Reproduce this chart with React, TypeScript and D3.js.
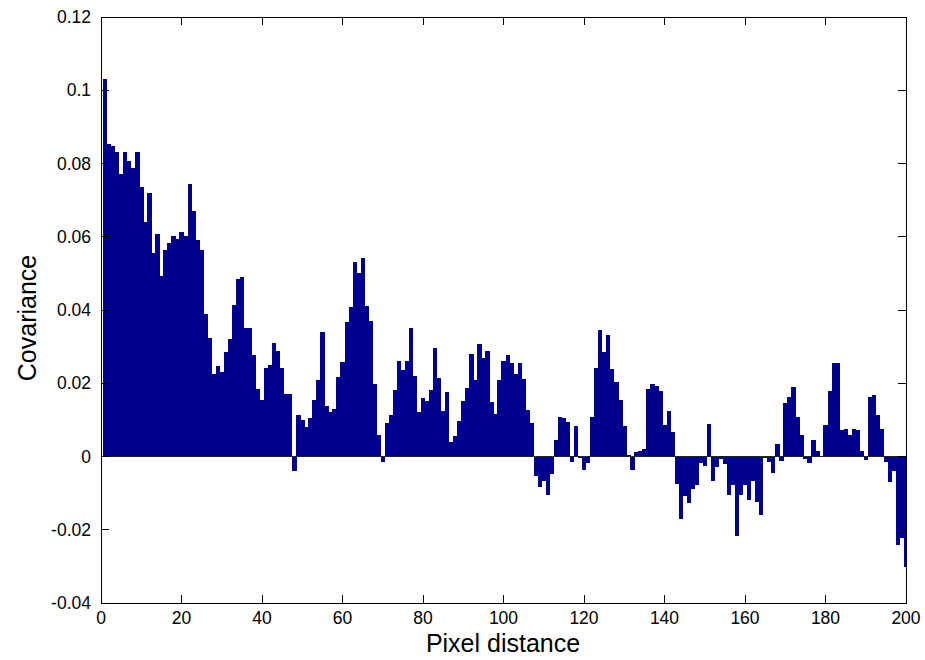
import React from "react";
import * as d3 from "d3";

// Pixel distance 1..200 and covariance values
const distances: number[] = d3.range(1, 201);
const covariance: number[] = [
  0.1030, 0.0854, 0.0847, 0.0831, 0.0772, 0.0831, 0.0806, 0.0787, 0.0831, 0.0735,
  0.0640, 0.0719, 0.0555, 0.0608, 0.0494, 0.0563, 0.0583, 0.0603, 0.0593, 0.0613,
  0.0601, 0.0743, 0.0670, 0.0590, 0.0563, 0.0389, 0.0324, 0.0226, 0.0248, 0.0231,
  0.0284, 0.0320, 0.0415, 0.0485, 0.0490, 0.0351, 0.0350, 0.0276, 0.0185, 0.0153,
  0.0242, 0.0250, 0.0310, 0.0289, 0.0242, 0.0171, 0.0172, -0.0040, 0.0112, 0.0100,
  0.0080, 0.0106, 0.0155, 0.0210, 0.0339, 0.0137, 0.0121, 0.0131, 0.0218, 0.0257,
  0.0367, 0.0408, 0.0530, 0.0502, 0.0543, 0.0412, 0.0371, 0.0197, 0.0059, -0.0014,
  0.0092, 0.0114, 0.0182, 0.0262, 0.0235, 0.0262, 0.0352, 0.0221, 0.0121, 0.0160,
  0.0151, 0.0182, 0.0296, 0.0214, 0.0124, 0.0176, 0.0039, 0.0055, 0.0098, 0.0151,
  0.0187, 0.0280, 0.0208, 0.0308, 0.0270, 0.0288, 0.0148, 0.0117, 0.0210, 0.0262,
  0.0278, 0.0256, 0.0226, 0.0256, 0.0212, 0.0128, 0.0091, -0.0052, -0.0084, -0.0066,
  -0.0104, -0.0047, 0.0044, 0.0109, 0.0106, 0.0094, -0.0016, 0.0082, -0.0004, -0.0038,
  -0.0018, 0.0107, 0.0241, 0.0346, 0.0284, 0.0333, 0.0239, 0.0203, 0.0155, 0.0082,
  0.0004, -0.0036, 0.0012, 0.0014, 0.0021, 0.0185, 0.0197, 0.0192, 0.0178, 0.0087,
  0.0124, 0.0068, -0.0075, -0.0170, -0.0109, -0.0127, -0.0088, -0.0079, -0.0018, -0.0025,
  0.0089, -0.0066, -0.0029, -0.0006, -0.0020, -0.0104, -0.0079, -0.0216, -0.0106, -0.0079,
  -0.0120, -0.0068, -0.0125, -0.0161, -0.0004, -0.0016, -0.0045, 0.0035, -0.0013, 0.0147,
  0.0162, 0.0191, 0.0107, 0.0059, -0.0008, -0.0017, 0.0044, 0.0014, 0.0002, 0.0087,
  0.0180, 0.0255, 0.0255, 0.0071, 0.0076, 0.0060, 0.0076, 0.0071, 0.0015, -0.0009,
  0.0162, 0.0167, 0.0114, 0.0076, -0.0016, -0.0070, -0.0040, -0.0243, -0.0222, -0.0302,
];

const xTicks: number[] = [0, 20, 40, 60, 80, 100, 120, 140, 160, 180, 200];
const yTicks: number[] = [-0.04, -0.02, 0, 0.02, 0.04, 0.06, 0.08, 0.1, 0.12];
const yTickLabels: string[] = ["-0.04", "-0.02", "0", "0.02", "0.04", "0.06", "0.08", "0.1", "0.12"];

const W = 925;
const H = 660;
const left = 101;
const right = 906;
const top = 17;
const bottom = 603;
const FONT = "'Liberation Sans', Arial, Helvetica, sans-serif";
const BAR = "#00008f";
const TICK = 8;

export default function App() {
  const x = d3.scaleLinear().domain([0, 200]).range([left, right]);
  const y = d3.scaleLinear().domain([-0.04, 0.12]).range([bottom, top]);
  const y0 = y(0);

  return (
    <svg
      width={W}
      height={H}
      viewBox={`0 0 ${W} ${H}`}
      style={{ position: "absolute", left: 0, top: 0, background: "#fff" }}
    >
      <defs>
        <clipPath id="plot">
          <rect x={left} y={top} width={right - left} height={bottom - top} />
        </clipPath>
      </defs>
      <rect x={0} y={0} width={W} height={H} fill="#fff" />
      <g clipPath="url(#plot)" shapeRendering="crispEdges">
        {distances.map((d, i) => {
          const v = covariance[i];
          const x0 = x(d - 0.5);
          const x1 = x(d + 0.5);
          const yv = y(v);
          return (
            <rect
              key={d}
              x={x0}
              width={x1 - x0 + 0.3}
              y={Math.min(yv, y0)}
              height={Math.abs(yv - y0)}
              fill={BAR}
            />
          );
        })}
        <line x1={left} x2={right} y1={y0} y2={y0} stroke="#222" strokeWidth={1} />
      </g>
      <g stroke="#000" strokeWidth={1} shapeRendering="crispEdges" fill="none">
        <rect x={left} y={top} width={right - left} height={bottom - top} />
        {xTicks.map((t) => (
          <g key={"xt" + t}>
            <line x1={x(t)} x2={x(t)} y1={bottom} y2={bottom - TICK} />
            <line x1={x(t)} x2={x(t)} y1={top} y2={top + TICK} />
          </g>
        ))}
        {yTicks.map((t) => (
          <g key={"yt" + t}>
            <line x1={left} x2={left + TICK} y1={y(t)} y2={y(t)} />
            <line x1={right} x2={right - TICK} y1={y(t)} y2={y(t)} />
          </g>
        ))}
      </g>
      <g fontFamily={FONT} fontSize={17.5} fill="#000">
        {xTicks.map((t) => (
          <text key={"xl" + t} x={x(t)} y={624} textAnchor="middle">
            {String(t)}
          </text>
        ))}
        {yTicks.map((t, i) => (
          <text key={"yl" + t} x={91} y={y(t) + 6} textAnchor="end">
            {yTickLabels[i]}
          </text>
        ))}
      </g>
      <text
        x={503}
        y={652}
        textAnchor="middle"
        fontFamily={FONT}
        fontSize={25}
        fill="#000"
      >
        Pixel distance
      </text>
      <text
        transform={`translate(36, 318) rotate(-90)`}
        textAnchor="middle"
        fontFamily={FONT}
        fontSize={25}
        fill="#000"
      >
        Covariance
      </text>
    </svg>
  );
}
